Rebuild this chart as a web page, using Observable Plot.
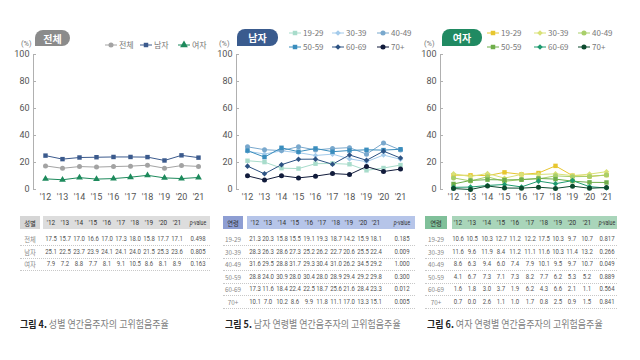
<!DOCTYPE html>
<html><head><meta charset="utf-8">
<script src="https://cdn.jsdelivr.net/npm/d3@7"></script>
<script src="https://cdn.jsdelivr.net/npm/@observablehq/plot@0.6"></script>
<style>
html,body{margin:0;padding:0;background:#fff;}
body{width:640px;height:360px;position:relative;overflow:hidden;font-family:"Noto Sans CJK KR","Noto Sans",Roboto,sans-serif;}
.a{position:absolute;white-space:nowrap;}
.badge{color:#fff;font-weight:700;font-size:10px;display:flex;align-items:center;justify-content:center;border-radius:8px 8px 8px 0;}
.pct{font-size:7.5px;color:#777;font-family:Roboto,sans-serif;}
.leg{font-size:8px;color:#777;display:flex;align-items:center;height:10px;line-height:10px;}
.leg svg{margin-right:2px;}
.cell{text-align:center;font-size:7.5px;line-height:12px;font-family:Roboto,sans-serif;transform:scaleX(0.8);}
.lab{font-family:"Noto Sans CJK KR",Roboto,sans-serif;font-size:7px;color:#888;transform:scaleX(0.9);}
.cap{font-size:10px;color:#808080;transform:scaleX(0.9);transform-origin:left center;}
.cap b{color:#222;}
</style></head><body>
<script>
// ---------- data ----------
const years = ["'12","'13","'14","'15","'16","'17","'18","'19","'20","'21"];
const yTicks = [0,20,40,60,80,100];

const sexNames = ["전체","남자","여자"];
const sexTotal  = [17.5,15.7,17.0,16.6,17.0,17.3,18.0,15.8,17.7,17.1];
const sexMale   = [25.1,22.5,23.7,23.9,24.1,24.1,24.0,21.5,25.3,23.6];
const sexFemale = [7.9,7.2,8.8,7.7,8.1,9.1,10.5,8.6,8.1,8.9];
const sexP = ["0.498","0.805","0.163"];
const sexColors = ["#a3a3a3","#3b5a8d","#1d8a5c"];
const sexSymbols = ["circle","square","triangle"];

const ageNames = ["19-29","30-39","40-49","50-59","60-69","70+"];
const male19 = [21.3,20.3,15.8,15.5,19.1,19.3,18.7,14.2,15.9,18.1];
const male30 = [28.3,26.3,28.6,27.3,25.2,26.2,22.7,20.6,25.5,22.4];
const male40 = [31.6,29.5,28.8,31.7,29.3,30.4,31.0,26.2,34.5,29.2];
const male50 = [28.8,24.0,30.9,28.0,30.4,28.0,28.9,29.4,29.2,29.8];
const male60 = [17.3,11.6,18.4,22.4,22.5,18.7,25.6,21.6,28.4,23.3];
const male70 = [10.1,7.0,10.2,8.6,9.9,11.8,11.1,17.0,13.3,15.1];
const maleP = ["0.185","0.009","1.000","0.300","0.012","0.005"];
const maleColors = ["#a8dccb","#a4cbeb","#79a8cd","#3a8dbd","#2c5283","#111b3b"];

const fem19 = [10.6,10.5,10.3,12.7,11.2,12.2,17.5,10.3,9.7,10.7];
const fem30 = [11.6,9.6,11.9,8.4,11.2,11.1,11.6,10.3,11.4,13.2];
const fem40 = [8.6,6.3,9.4,6.0,7.4,7.9,10.1,9.5,9.7,10.7];
const fem50 = [4.1,6.7,7.3,7.1,7.3,8.2,7.7,6.2,5.3,5.2];
const fem60 = [1.6,1.8,3.0,3.7,1.9,6.2,4.3,6.6,2.1,1.1];
const fem70 = [0.7,0.0,2.6,1.1,1.0,1.7,0.8,2.5,0.9,1.5];
const femP = ["0.817","0.266","0.049","0.889","0.564","0.841"];
const femColors = ["#e7c62f","#d9e177","#a9cf6a","#6fae4a","#1e9a6f","#0c4a2e"];
const ageSymbols = ["square","diamond","circle","square","diamond","circle"];

const captions = [["그림 4.","성별 연간음주자의 고위험음주율"],["그림 5.","남자 연령별 연간음주자의 고위험음주율"],["그림 6.","여자 연령별 연간음주자의 고위험음주율"]];

// ---------- helpers ----------
const symMap = {circle: d3.symbolCircle, square: d3.symbolSquare, triangle: d3.symbolTriangle, diamond: d3.symbolDiamond2 || d3.symbolDiamond};
const fmt = d3.format(".1f");
const body = document.body;
function div(cls, css, html){const e=document.createElement("div");e.className=cls;Object.assign(e.style,css);if(html!=null)e.innerHTML=html;body.appendChild(e);return e;}

function chart(cfg){
  const data = cfg.names.flatMap((n,k)=>cfg.values[k].map((v,i)=>({year:years[i],value:v,name:n})));
  const svg = Plot.plot({
    width: cfg.width, height: 210,
    marginLeft: cfg.mL, marginRight: cfg.mR, marginTop: 54, marginBottom: 21,
    style: {fontFamily: "Roboto, sans-serif", fontSize: "9px", background: "transparent", overflow: "visible"},
    x: {type: "point", domain: years, padding: 0.55, label: null},
    y: {domain: [0,100], label: null},
    color: {domain: cfg.names, range: cfg.colors},
    symbol: {domain: cfg.names, range: cfg.symbols.map(s=>symMap[s])},
    marks: [
      Plot.frame({anchor: "left", stroke: "#b0b0b0"}),
      Plot.axisY({ticks: yTicks, tickSize: -3, tickPadding: 7, stroke: "#b0b0b0", fill: "#555", label: null}),
      Plot.axisX({tickSize: 0, tickPadding: 4, fill: "#555", label: null}),
      Plot.line(data, {x: "year", y: "value", z: "name", stroke: "name", strokeWidth: 1}),
      Plot.dot(data, {x: "year", y: "value", fill: "name", symbol: "name", r: 2.5})
    ]
  });
  const wrap = div("a", {left: cfg.left+"px", top: "0px"});
  wrap.appendChild(svg);
}

function legendItem(x, y, name, color, sym, lineLen){
  const s = d3.create("svg").attr("width", lineLen).attr("height", 10);
  s.append("line").attr("x1",0).attr("x2",lineLen).attr("y1",5).attr("y2",5).attr("stroke",color).attr("stroke-width",1);
  s.append("path").attr("transform",`translate(${lineLen/2},5)`).attr("d", d3.symbol().type(symMap[sym]).size(sym==="triangle"?26:20)()).attr("fill",color);
  const e = div("a leg", {left: x+"px", top: (y-5)+"px"});
  e.appendChild(s.node());
  const t=document.createElement("span");t.textContent=name;e.appendChild(t);
}

function table(cfg){
  const top = 216, hh = 13, rowTop = 233, rh = 12.5;
  div("a", {left: cfg.labL+"px", top: top+"px", width: (cfg.labR-cfg.labL)+"px", height: hh+"px", background: cfg.hLabBg});
  div("a", {left: cfg.yrL+"px", top: top+"px", width: (cfg.yrR-cfg.yrL)+"px", height: hh+"px", background: cfg.hYrBg});
  const labC = (cfg.labL+cfg.labR)/2;
  div("a cell lab", {left:(labC-15)+"px", width:"30px", top:(top+0.5)+"px", color:"#333"}, cfg.headLabel);
  years.forEach((y,i)=>div("a cell",{left:(cfg.c0+i*cfg.step-10)+"px",width:"20px",top:(top+0.5)+"px",color:"#333",fontSize:"8px"},y));
  div("a cell",{left:(cfg.pC-15)+"px",width:"30px",top:(top+0.5)+"px",color:"#333",fontSize:"6.5px"},"<i>p</i>-value");
  cfg.rows.forEach((r,k)=>{
    const yt = rowTop + k*rh;
    div("a", {left: cfg.labL+"px", top: (yt+rh-0.5)+"px", width:(cfg.yrR-cfg.labL)+"px", height:"0px", borderTop:"1px dotted #c8c8c8"});
    div("a cell lab", {left:(labC-15)+"px", width:"30px", top:(yt)+"px"}, r.label);
    r.values.forEach((v,i)=>div("a cell",{left:(cfg.c0+i*cfg.step-10)+"px",width:"20px",top:yt+"px",color:"#555"},fmt(v)));
    div("a cell",{left:(cfg.pC-15)+"px",width:"30px",top:yt+"px",color:"#555"},r.p);
  });
}

// ---------- charts ----------
chart({left:0, width:213, mL:33, mR:3, names:sexNames, values:[sexTotal,sexMale,sexFemale], colors:sexColors, symbols:sexSymbols});
chart({left:213, width:205, mL:23, mR:7.5, names:ageNames, values:[male19,male30,male40,male50,male60,male70], colors:maleColors, symbols:ageSymbols});
chart({left:418, width:222, mL:22, mR:21, names:ageNames, values:[fem19,fem30,fem40,fem50,fem60,fem70], colors:femColors, symbols:ageSymbols});

// badges & unit labels
div("a badge", {left:"35px", top:"30px", width:"35px", height:"16px", background:"#8b8b8b"}, "전체");
div("a badge", {left:"237px", top:"29px", width:"41px", height:"17px", background:"#3a5b8e"}, "남자");
div("a badge", {left:"442px", top:"29px", width:"40px", height:"17px", background:"#208a62"}, "여자");
div("a pct", {left:"21px", top:"39px"}, "(%)");
div("a pct", {left:"219px", top:"39px"}, "(%)");
div("a pct", {left:"424px", top:"39px"}, "(%)");

// legends
const l1x = [105,140,178];
sexNames.forEach((n,i)=>legendItem(l1x[i], 45, n, sexColors[i], sexSymbols[i], 12));
const l2x = [289,332,377], l3x = [487,534,578], rowsY=[33,47];
ageNames.forEach((n,i)=>{
  legendItem(l2x[i%3], rowsY[Math.floor(i/3)], n, maleColors[i], ageSymbols[i], 12);
  legendItem(l3x[i%3], rowsY[Math.floor(i/3)], n, femColors[i], ageSymbols[i], 12);
});

// tables
table({labL:20, labR:40, yrL:43, yrR:210, c0:50.5, step:14, pC:198, hLabBg:"#d6d6d6", hYrBg:"#dddddd", headLabel:"성별",
  rows:[{label:"전체",values:sexTotal,p:sexP[0]},{label:"남자",values:sexMale,p:sexP[1]},{label:"여자",values:sexFemale,p:sexP[2]}]});
table({labL:223, labR:243, yrL:247, yrR:415, c0:254.5, step:13.5, pC:402, hLabBg:"#8e9ed3", hYrBg:"#b6c5e9", headLabel:"연령",
  rows:[male19,male30,male40,male50,male60,male70].map((v,k)=>({label:ageNames[k],values:v,p:maleP[k]}))});
table({labL:425, labR:447, yrL:452, yrR:617, c0:458, step:14.3, pC:607, hLabBg:"#80c09a", hYrBg:"#a9d5ba", headLabel:"연령",
  rows:[fem19,fem30,fem40,fem50,fem60,fem70].map((v,k)=>({label:ageNames[k],values:v,p:femP[k]}))});

// captions
const capX=[20,225,427];
captions.forEach((c,i)=>div("a cap",{left:capX[i]+"px", top:"316px"}, `<b>${c[0]}</b> ${c[1]}`));
</script>
</body></html>
